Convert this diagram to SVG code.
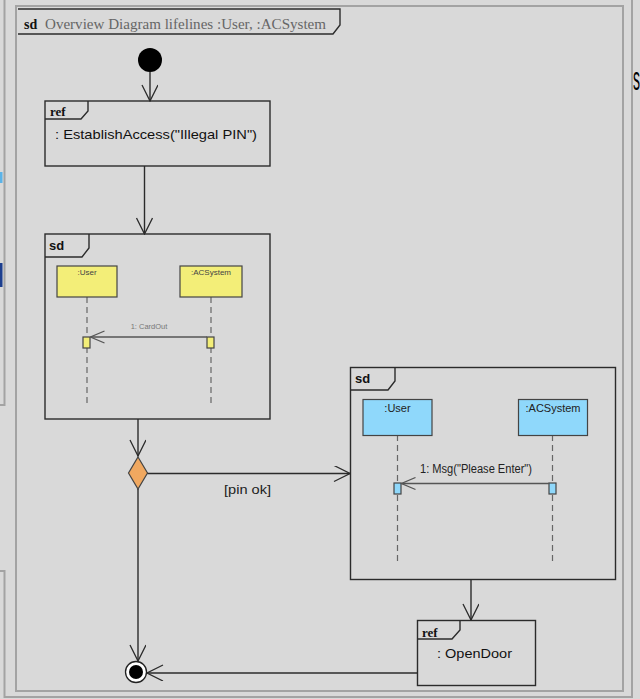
<svg xmlns="http://www.w3.org/2000/svg" width="640" height="699" viewBox="0 0 640 699">
<defs>
<style>
.frame{fill:none;stroke:#2b2b2b;stroke-width:1.4}
.box{fill:none;stroke:#2b2b2b;stroke-width:1.4}
.con{fill:none;stroke:#2b2b2b;stroke-width:1.4}
.msg{fill:none;stroke:#555;stroke-width:1.3}
.life{stroke:#666;stroke-width:1.2;stroke-dasharray:6,4}
.sans{font-family:"Liberation Sans",Arial,sans-serif}
.serif{font-family:"Liberation Serif","Times New Roman",serif}
.ylw{fill:#f3ee78;stroke:#444;stroke-width:1.2}
.blu{fill:#8fd8fb;stroke:#444;stroke-width:1.2}
.win{fill:none;stroke:#a3a3a3;stroke-width:2}
</style>
<marker id="open" viewBox="0 0 18 18" refX="17" refY="8" markerWidth="18" markerHeight="18" markerUnits="userSpaceOnUse" orient="auto">
<path d="M1,0 L17,8 L1,16" fill="none" stroke="#2b2b2b" stroke-width="1.3"/>
</marker>
<marker id="small" viewBox="0 0 16 14" refX="15" refY="7" markerWidth="16" markerHeight="14" markerUnits="userSpaceOnUse" orient="auto">
<path d="M1,1 L15,7 L1,13" fill="none" stroke="#555" stroke-width="1.2"/>
</marker>
</defs>
<rect width="640" height="699" fill="#d9d9d9"/>
<g id="window">
<path class="win" d="M0,405 H4.5 V0"/>
<path class="win" d="M0,571 H4.5 V697 H632 V0"/>
<rect class="win" x="16" y="6" width="607" height="685"/>
<rect x="0" y="172" width="2.5" height="11" fill="#5bb3e8"/>
<rect x="0" y="263" width="2.5" height="24" fill="#1d3f8f"/>
<text x="633" y="90" font-size="34" class="sans" fill="#000" textLength="7" lengthAdjust="spacingAndGlyphs">s</text>
</g>
<g id="overview-frame">
<path class="frame" d="M18,9 H340 V25 L333,34 H18"/>
<text x="24" y="29" class="serif" font-size="14" font-weight="bold" fill="#111">sd</text>
<text x="45" y="29" class="serif" font-size="14" fill="#666" textLength="281" lengthAdjust="spacingAndGlyphs">Overview Diagram lifelines :User, :ACSystem</text>
</g>
<g id="initial">
<circle cx="150" cy="60" r="12" fill="#000"/>
</g>
<g id="ref-establish">
<rect class="box" x="45" y="101" width="225" height="65"/>
<path class="box" d="M45,119 H81 L88,111 V101"/>
<text x="50" y="116" class="serif" font-size="13" font-weight="bold" fill="#111">ref</text>
<text x="55" y="139" class="sans" font-size="13.5" fill="#111" textLength="202" lengthAdjust="spacingAndGlyphs">: EstablishAccess("Illegal PIN")</text>
</g>
<g id="sd-cardout">
<rect class="box" x="45" y="234" width="225" height="185"/>
<path class="box" d="M45,257 H82 L89,248 V234"/>
<text x="49" y="250" class="sans" font-size="13" font-weight="bold" fill="#111">sd</text>
<line class="life" x1="87" y1="297" x2="87" y2="405"/>
<line class="life" x1="211" y1="297" x2="211" y2="405"/>
<rect class="ylw" x="57" y="266" width="60" height="31"/>
<rect class="ylw" x="180" y="266" width="62" height="31"/>
<text x="87" y="275" class="sans" font-size="8" fill="#444" text-anchor="middle">:User</text>
<text x="211" y="275" class="sans" font-size="8" fill="#444" text-anchor="middle">:ACSystem</text>
<rect class="ylw" x="83" y="337" width="7" height="11"/>
<rect class="ylw" x="207" y="337" width="7" height="11"/>
<line class="msg" x1="207" y1="337" x2="90.5" y2="337" marker-end="url(#small)"/>
<text x="149" y="329" class="sans" font-size="7.5" fill="#777" text-anchor="middle">1: CardOut</text>
</g>
<g id="decision">
<polygon points="138,457 147.5,473 138,489 128.5,473" fill="#f0a860" stroke="#444" stroke-width="1.2"/>
</g>
<g id="sd-msg">
<rect class="box" x="350.5" y="367.5" width="265" height="212"/>
<path class="box" d="M350.5,390 H388 L395,381 V367.5"/>
<text x="355" y="383" class="sans" font-size="13" font-weight="bold" fill="#111">sd</text>
<line class="life" x1="397.5" y1="435" x2="397.5" y2="563"/>
<line class="life" x1="552.5" y1="435" x2="552.5" y2="563"/>
<rect class="blu" x="363" y="399.5" width="69" height="36"/>
<rect class="blu" x="518.5" y="399.5" width="69" height="36"/>
<text x="397.5" y="412" class="sans" font-size="11" fill="#222" text-anchor="middle">:User</text>
<text x="553" y="412" class="sans" font-size="11" fill="#222" text-anchor="middle">:ACSystem</text>
<rect class="blu" x="394" y="483" width="7" height="11"/>
<rect class="blu" x="549" y="483" width="7" height="11"/>
<line class="msg" x1="549" y1="483.5" x2="401.5" y2="483.5" marker-end="url(#small)"/>
<text x="420" y="473" class="sans" font-size="12" fill="#222" textLength="112" lengthAdjust="spacingAndGlyphs">1: Msg("Please Enter")</text>
</g>
<g id="ref-opendoor">
<rect class="box" x="417.5" y="620.5" width="118" height="65"/>
<path class="box" d="M417.5,639 H452 L460,630 V620.5"/>
<text x="422" y="637" class="serif" font-size="13" font-weight="bold" fill="#111">ref</text>
<text x="437" y="658" class="sans" font-size="13.5" fill="#111" textLength="75" lengthAdjust="spacingAndGlyphs">: OpenDoor</text>
</g>
<g id="final">
<circle cx="136" cy="672" r="10.5" fill="#fff" stroke="#222" stroke-width="1.3"/>
<circle cx="136" cy="672" r="7" fill="#000"/>
</g>
<g id="connectors">
<line class="con" x1="150" y1="72" x2="150" y2="101" marker-end="url(#open)"/>
<line class="con" x1="144.5" y1="166" x2="144.5" y2="234" marker-end="url(#open)"/>
<line class="con" x1="138" y1="419" x2="138" y2="456" marker-end="url(#open)"/>
<line class="con" x1="147.5" y1="473.5" x2="350" y2="473.5" marker-end="url(#open)"/>
<text x="224" y="494" class="sans" font-size="13" fill="#222" textLength="47" lengthAdjust="spacingAndGlyphs">[pin ok]</text>
<line class="con" x1="138" y1="489" x2="138" y2="661" marker-end="url(#open)"/>
<line class="con" x1="471" y1="579.5" x2="471" y2="620" marker-end="url(#open)"/>
<line class="con" x1="417.5" y1="673" x2="147" y2="673" marker-end="url(#open)"/>
</g>
</svg>
